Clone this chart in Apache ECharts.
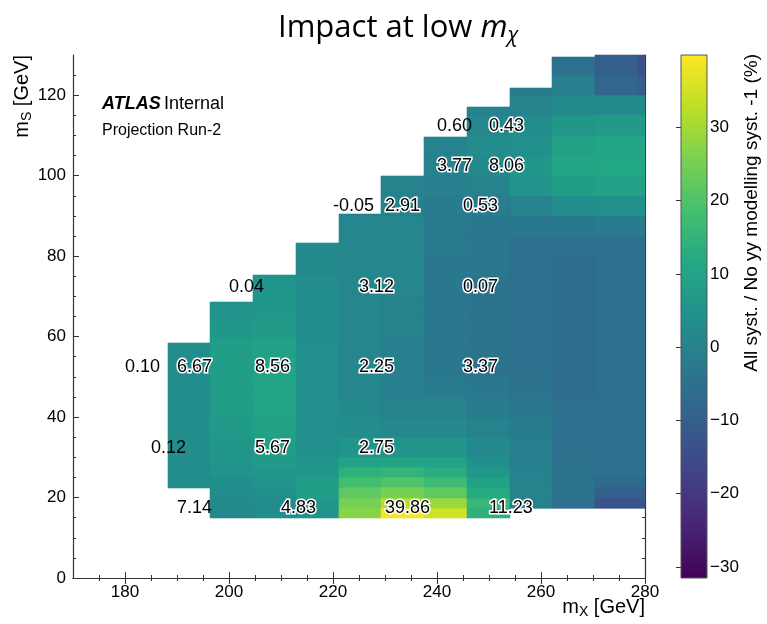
<!DOCTYPE html>
<html>
<head>
<meta charset="utf-8">
<script src="https://cdn.jsdelivr.net/npm/echarts@6/dist/echarts.min.js"></script>
<style>
  html, body { margin: 0; padding: 0; background: #ffffff; }
  #main { width: 767px; height: 624px; }
</style>
</head>
<body>
<div id="main"></div>
<script>
// m_X bin edges (GeV) of the map columns
const mxEdges = [188.3, 196.4, 204.6, 212.9, 221.15, 229.3, 237.5, 245.8, 254.0, 262.2, 270.4, 278.65, 280];
// lowest and highest m_S covered by each column (GeV)
const colLow  = [22.4, 15, 15, 15, 15, 15, 15, 15, 17.4, 17.4, 17.4, 17.4];
const colHigh = [58.4, 68.6, 75.3, 83.3, 90.6, 100, 109.5, 117, 121.7, 129.4, 130, 130];
// m_S bin edges (GeV)
const msEdges = [15, 17.5, 20, 22.5, 25, 27.5, 30, 35, 40, 45, 50, 55, 60, 65, 70, 75, 80, 85, 90, 95, 100, 105, 110, 115, 120, 125, 130];

// impact (%) per column, one entry per m_S bin, null where the column is empty
const col0  = [null, null, 3, 3, 3, 3, 3, 3, 3, 3, 3, 3, null, null, null, null, null, null, null, null, null, null, null, null, null, null];
const col1  = [2, 2, 3, 4, 5, 5, 6, 7, 8, 8, 8, 8, 6, 5, null, null, null, null, null, null, null, null, null, null, null, null];
const col2  = [3, 3, 4, 5, 6, 7, 8, 9, 10, 10, 10, 9, 7, 6, 5, 5, null, null, null, null, null, null, null, null, null, null];
const col3  = [5, 6, 8, 8, 6, 5, 4, 4, 4, 4, 4, 4, 3, 3, 3, 2, 2, null, null, null, null, null, null, null, null, null];
const col4  = [27, 25, 22, 18, 14, 9, 5, 3, 2, 1, 1, 1, 1, 1, 1, 1, 1, 1, 0, null, null, null, null, null, null, null];
const col5  = [39, 32, 25, 20, 15, 10, 5, 2, 0, -1, -1, -1, 0, 0, 1, 1, 1, 1, 0, 0, null, null, null, null, null, null];
const col6  = [35, 29, 22, 17, 13, 9, 5, 2, 0, -2, -3, -3, -3, -3, -3, -3, -2, -2, -2, -1, 0, 0, null, null, null, null];
const col7  = [14, 16, 12, 9, 6, 4, 2, 0, -2, -3, -4, -4, -4, -4, -4, -3, -3, -3, -2, 0, 2, 3, 1, 0, null, null];
const col8  = [0, 0, 0, 0, 0, -1, -1, -2, -3, -4, -5, -5, -5, -5, -5, -5, -5, -3, 0, 5, 6, 4, 3, 0, -2, null];
const col9  = [-5, -5, -4, -4, -4, -4, -5, -5, -5, -6, -6, -6, -6, -6, -6, -6, -5, -3, 3, 8, 10, 9, 6, 2, -1, -5];
const col10 = [-13, -13, -10, -7, -5, -5, -5, -5, -5, -5, -5, -5, -5, -5, -5, -5, -5, -2, 4, 9, 11, 10, 7, 2, -8, -10];
const col11 = [-13, -13, -10, -7, -5, -5, -5, -5, -5, -5, -5, -5, -5, -5, -5, -5, -5, -2, 4, 9, 11, 10, 7, 2, -10, -14];
const columns = [col0, col1, col2, col3, col4, col5, col6, col7, col8, col9, col10, col11];

// signal mass points and their printed impact (%)
const pointMX   = [180, 190, 205, 225, 245, 185, 205, 225, 190, 210, 230, 250, 200, 225, 245, 220, 230, 245, 240, 250, 240, 250];
const pointMS   = [50, 50, 50, 50, 50, 30, 30, 30, 15, 15, 15, 15, 70, 70, 70, 90, 90, 90, 100, 100, 110, 110];
const pointText = ['0.10', '6.67', '8.56', '2.25', '3.37', '0.12', '5.67', '2.75', '7.14', '4.83', '39.86', '11.23',
                   '0.04', '3.12', '0.07', '-0.05', '2.91', '0.53', '3.77', '8.06', '0.60', '0.43'];
const pointHalo = [false, true, true, true, true, false, true, true, false, true, true, true,
                   false, true, true, false, true, true, true, true, false, true];

// axis ticks
const xMajor = [180, 200, 220, 240, 260, 280];
const xMinor = [175, 185, 190, 195, 205, 210, 215, 225, 230, 235, 245, 250, 255, 265, 270, 275];
const yMajor = [0, 20, 40, 60, 80, 100, 120];
const yMinor = [5, 10, 15, 25, 30, 35, 45, 50, 55, 65, 70, 75, 85, 90, 95, 105, 110, 115, 125];
const cbMajor = [-30, -20, -10, 0, 10, 20, 30];
const cbMinor = [-28, -26, -24, -22, -18, -16, -14, -12, -8, -6, -4, -2, 2, 4, 6, 8, 12, 14, 16, 18, 22, 24, 26, 28, 32, 34, 36, 38];

// colour scale range and viridis stops
const VMIN = -31.5;
const VMAX = 39.86;
const viridis = ['#440154', '#482475', '#414487', '#355f8d', '#2a788e', '#21918c',
                 '#22a884', '#44bf70', '#7ad151', '#bddf26', '#fde725'];

const FONT = '"Liberation Sans", Arial, Helvetica, sans-serif';
const AXC = '#333333';

// flatten the columns into rectangles [x0, x1, y0, y1, value]
const cells = [];
columns.forEach(function (vals, c) {
  vals.forEach(function (v, j) {
    if (v === null) return;
    const y0 = Math.max(msEdges[j], colLow[c]);
    const y1 = Math.min(msEdges[j + 1], colHigh[c]);
    if (y1 > y0) cells.push([mxEdges[c], mxEdges[c + 1], y0, y1, v]);
  });
});

const points = pointMX.map(function (x, i) { return [x, pointMS[i], i]; });

function tickAxis(grid, pos, min, max, ticks, len, withLine, labels) {
  return {
    gridIndex: grid, type: 'value', position: pos, min: min, max: max,
    splitLine: { show: false },
    axisLine: { show: withLine, lineStyle: { color: AXC, width: 1.2 } },
    axisTick: { show: true, inside: true, length: len, customValues: ticks, lineStyle: { color: AXC, width: 1 } },
    axisLabel: labels ? Object.assign({ show: true, customValues: ticks, color: '#000', fontSize: 17, fontFamily: FONT }, labels) : { show: false }
  };
}

const chart = echarts.init(document.getElementById('main'), null, { renderer: 'canvas' });

chart.setOption({
  animation: false,
  backgroundColor: '#ffffff',
  grid: [
    { left: 73, right: 122, top: 55, bottom: 46 },
    { left: 681, width: 26, top: 55, bottom: 46 }
  ],
  xAxis: [
    tickAxis(0, 'bottom', 170, 280, xMajor, 6, true, { margin: 6 }),
    tickAxis(0, 'bottom', 170, 280, xMinor, 3, false, null),
    tickAxis(0, 'top', 170, 280, xMajor, 6, true, null),
    tickAxis(0, 'top', 170, 280, xMinor, 3, false, null),
    { gridIndex: 1, type: 'value', min: 0, max: 1, show: false }
  ],
  yAxis: [
    tickAxis(0, 'left', 0, 130, yMajor, 6, true, { margin: 7 }),
    tickAxis(0, 'left', 0, 130, yMinor, 3, false, null),
    tickAxis(0, 'right', 0, 130, yMajor, 6, true, null),
    tickAxis(0, 'right', 0, 130, yMinor, 3, false, null),
    tickAxis(1, 'right', VMIN, VMAX, cbMajor, 5, false, {
      margin: 3,
      formatter: function (v) { return v < 0 ? '\u2212' + Math.abs(v) : String(v); }
    }),
    tickAxis(1, 'right', VMIN, VMAX, cbMinor, 3, false, null)
  ],
  visualMap: {
    type: 'continuous', show: false, seriesIndex: 0, dimension: 4,
    min: VMIN, max: VMAX, inRange: { color: viridis }
  },
  series: [
    {
      type: 'custom', xAxisIndex: 0, yAxisIndex: 0,
      dimensions: ['x0', 'x1', 'y0', 'y1', 'impact'],
      data: cells,
      renderItem: function (params, api) {
        const a = api.coord([api.value(0), api.value(3)]);
        const b = api.coord([api.value(1), api.value(2)]);
        const x = Math.round(a[0]), y = Math.round(a[1]);
        const c = api.visual('color');
        return {
          type: 'rect',
          shape: { x: x, y: y, width: Math.round(b[0]) - x, height: Math.round(b[1]) - y },
          style: { fill: c, stroke: c, lineWidth: 0.6 }
        };
      }
    },
    {
      type: 'custom', xAxisIndex: 0, yAxisIndex: 0, z: 5,
      data: points,
      renderItem: function (params, api) {
        const p = api.coord([api.value(0), api.value(1)]);
        const i = api.value(2);
        return {
          type: 'text', x: p[0], y: p[1],
          style: {
            text: pointText[i], font: '18px ' + FONT, fill: '#000',
            stroke: pointHalo[i] ? '#ffffff' : null, lineWidth: pointHalo[i] ? 3 : 0,
            strokeFirst: true, align: 'left', verticalAlign: 'bottom', lineHeight: 19
          }
        };
      }
    },
    {
      type: 'custom', xAxisIndex: 4, yAxisIndex: 4,
      data: [[0]],
      renderItem: function (params, api) {
        const a = api.coord([0, VMAX]);
        const b = api.coord([1, VMIN]);
        return {
          type: 'rect',
          shape: { x: a[0], y: a[1], width: b[0] - a[0], height: b[1] - a[1] },
          style: {
            fill: new echarts.graphic.LinearGradient(0, 1, 0, 0,
              viridis.map(function (col, k) { return { offset: k / (viridis.length - 1), color: col }; })),
            stroke: '#555555', lineWidth: 1
          }
        };
      }
    }
  ],
  graphic: { elements: [
    {
      type: 'text', left: 278, top: 13,
      style: {
        text: '{n|Impact at low }{m|m}{s|\u03c7}',
        fill: '#000',
        rich: {
          n: { font: '31px "Open Sans", sans-serif', lineHeight: 36 },
          m: { font: 'italic 31px "Open Sans", sans-serif', lineHeight: 36 },
          s: { font: 'italic 21px "Open Sans", sans-serif', verticalAlign: 'bottom' }
        }
      }
    },
    {
      type: 'text', x: 102, y: 104,
      style: {
        text: '{b|ATLAS} {r|Internal}', fill: '#000', verticalAlign: 'middle',
        rich: {
          b: { font: 'italic bold 18px ' + FONT },
          r: { font: '18px ' + FONT }
        }
      }
    },
    {
      type: 'text', x: 102, y: 131,
      style: { text: 'Projection Run-2', font: '16px ' + FONT, fill: '#000', verticalAlign: 'middle' }
    },
    {
      type: 'text', x: 645, y: 607,
      style: {
        text: '{m|m}{s|X}{n| [GeV]}', fill: '#000', align: 'right', verticalAlign: 'middle',
        rich: {
          m: { font: '20px ' + FONT, lineHeight: 24 },
          s: { font: '14px ' + FONT, verticalAlign: 'bottom' },
          n: { font: '20px ' + FONT, lineHeight: 24 }
        }
      }
    },
    {
      type: 'text', x: 22, y: 55, rotation: Math.PI / 2,
      style: {
        text: '{m|m}{s|S}{n| [GeV]}', fill: '#000', align: 'right', verticalAlign: 'middle',
        rich: {
          m: { font: '20px ' + FONT, lineHeight: 24 },
          s: { font: '14px ' + FONT, verticalAlign: 'bottom' },
          n: { font: '20px ' + FONT, lineHeight: 24 }
        }
      }
    },
    {
      type: 'text', x: 752, y: 54, rotation: Math.PI / 2,
      style: {
        text: 'All syst. / No yy modelling syst. -1 (%)', font: '19px ' + FONT, fill: '#000',
        align: 'right', verticalAlign: 'middle'
      }
    }
  ] }
});
</script>
</body>
</html>
